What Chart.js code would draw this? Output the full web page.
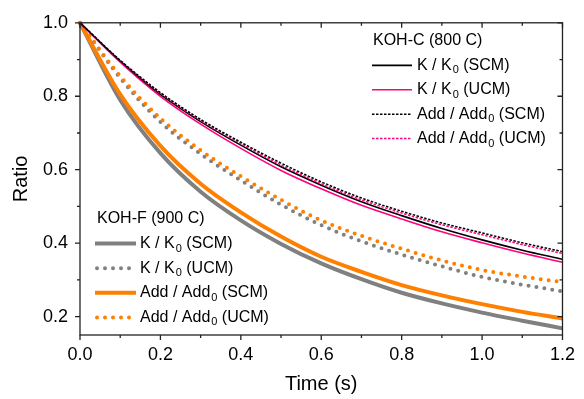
<!DOCTYPE html>
<html>
<head>
<meta charset="utf-8">
<script src="https://cdn.jsdelivr.net/npm/chart.js@4.4.1/dist/chart.umd.min.js"></script>
<style>
  html, body { margin: 0; padding: 0; background: #fff; }
</style>
</head>
<body>
<canvas id="ratioChart" width="584" height="399"></canvas>
<script>
// time axis (s)
var time = [0, 0.1, 0.2, 0.3, 0.4, 0.5, 0.6, 0.7, 0.8, 0.9, 1.0, 1.1, 1.2];

// KOH-C (800 C)
var c_K_SCM   = [1, 0.896, 0.805, 0.731, 0.667, 0.608, 0.558, 0.513, 0.475, 0.440, 0.409, 0.381, 0.356];
var c_K_UCM   = [1, 0.893, 0.800, 0.724, 0.658, 0.598, 0.548, 0.503, 0.466, 0.431, 0.401, 0.373, 0.348];
var c_Add_SCM = [1, 0.898, 0.810, 0.737, 0.675, 0.618, 0.567, 0.523, 0.487, 0.455, 0.428, 0.401, 0.377];
var c_Add_UCM = [1, 0.897, 0.808, 0.734, 0.671, 0.613, 0.562, 0.518, 0.482, 0.450, 0.423, 0.396, 0.372];

// KOH-F (900 C)
var f_K_SCM   = [1, 0.790, 0.645, 0.540, 0.462, 0.398, 0.345, 0.302, 0.265, 0.236, 0.211, 0.189, 0.168];
var f_K_UCM   = [1, 0.850, 0.730, 0.643, 0.571, 0.505, 0.449, 0.405, 0.369, 0.337, 0.308, 0.287, 0.269];
var f_Add_SCM = [1, 0.805, 0.665, 0.562, 0.484, 0.418, 0.363, 0.322, 0.286, 0.258, 0.234, 0.213, 0.195];
var f_Add_UCM = [1, 0.855, 0.740, 0.653, 0.582, 0.518, 0.462, 0.420, 0.385, 0.353, 0.327, 0.309, 0.294];

var xTicks = [0, 0.2, 0.4, 0.6, 0.8, 1.0, 1.2];
var yTicks = [0.2, 0.4, 0.6, 0.8, 1.0];

var FONT = 'Arial, "Liberation Sans", sans-serif';
var BLACK = '#000000', PINK = '#ff0080', GRAY = '#808080', ORANGE = '#ff7f00';

function pts(arr) {
  return arr.map(function(v, i) { return { x: time[i], y: v }; });
}

function ds(label, arr, color, width, dash) {
  return {
    label: label,
    data: pts(arr),
    borderColor: color,
    borderWidth: width,
    borderDash: dash || [],
    borderCapStyle: (dash && dash[0] === 0) ? 'round' : 'butt',
    pointRadius: 0,
    fill: false,
    cubicInterpolationMode: 'monotone',
    clip: 4
  };
}

// first dataset is drawn on top
var datasets = [
  ds('c_Add_SCM', c_Add_SCM, BLACK, 1.5, [2.5, 1.5]),
  ds('c_Add_UCM', c_Add_UCM, PINK, 1.5, [2.5, 1.5]),
  ds('c_K_SCM', c_K_SCM, BLACK, 1.6),
  ds('c_K_UCM', c_K_UCM, PINK, 1.6),
  ds('f_Add_UCM', f_Add_UCM, ORANGE, 4, [0, 8]),
  ds('f_K_UCM', f_K_UCM, GRAY, 4, [0, 8]),
  ds('f_Add_SCM', f_Add_SCM, ORANGE, 4),
  ds('f_K_SCM', f_K_SCM, GRAY, 4)
];

// legend groups: title, position, rows [dataset index, main text, subscript, rest]
var legends = [
  { title: 'KOH-C (800 C)', x: 373, y: 41, lineX: 372, lineW: 40, textX: 417, step: 24.4,
    rows: [[2, 'K / K', '0', ' (SCM)'], [3, 'K / K', '0', ' (UCM)'],
           [0, 'Add / Add', '0', ' (SCM)'], [1, 'Add / Add', '0', ' (UCM)']] },
  { title: 'KOH-F (900 C)', x: 97, y: 219, lineX: 95, lineW: 41, textX: 140, step: 24.6,
    rows: [[7, 'K / K', '0', ' (SCM)'], [5, 'K / K', '0', ' (UCM)'],
           [6, 'Add / Add', '0', ' (SCM)'], [4, 'Add / Add', '0', ' (UCM)']] }
];

var framePlugin = {
  id: 'frame',
  afterDraw: function(chart) {
    var ctx = chart.ctx, a = chart.chartArea;
    var xs = chart.scales.x, ys = chart.scales.y;
    ctx.save();
    ctx.strokeStyle = '#222';
    ctx.lineWidth = 1.3;
    ctx.strokeRect(a.left, a.top, a.right - a.left, a.bottom - a.top);
    ctx.beginPath();
    for (var i = 2; i <= 10; i++) {
      var py = ys.getPixelForValue(i / 10);
      var len = (i % 2 === 0) ? 5 : 3;
      ctx.moveTo(a.left, py); ctx.lineTo(a.left - len, py);
      ctx.moveTo(a.right, py); ctx.lineTo(a.right - len, py);
    }
    for (var j = 0; j <= 12; j++) {
      var px = xs.getPixelForValue(j / 10);
      var lenx = (j % 2 === 0) ? 5 : 3;
      ctx.moveTo(px, a.bottom); ctx.lineTo(px, a.bottom + lenx);
      ctx.moveTo(px, a.top); ctx.lineTo(px, a.top + lenx);
    }
    ctx.stroke();

    // legends
    ctx.fillStyle = '#000';
    ctx.textBaseline = 'middle';
    legends.forEach(function(lg) {
      ctx.font = '16px ' + FONT;
      ctx.fillText(lg.title, lg.x, lg.y);
      lg.rows.forEach(function(r, k) {
        var d = chart.data.datasets[r[0]];
        var yy = lg.y + lg.step * (k + 1);
        ctx.save();
        ctx.strokeStyle = d.borderColor;
        ctx.lineWidth = d.borderWidth;
        ctx.setLineDash(d.borderDash);
        ctx.lineCap = d.borderCapStyle;
        ctx.beginPath();
        var off = d.borderCapStyle === 'round' ? 2 : 0;
        ctx.moveTo(lg.lineX + off, yy);
        ctx.lineTo(lg.lineX + lg.lineW, yy);
        ctx.stroke();
        ctx.restore();
        var tx = lg.textX;
        ctx.font = '16px ' + FONT;
        ctx.fillText(r[1], tx, yy);
        tx += ctx.measureText(r[1]).width + 1;
        ctx.font = '11px ' + FONT;
        ctx.fillText(r[2], tx, yy + 5);
        tx += ctx.measureText(r[2]).width;
        ctx.font = '16px ' + FONT;
        ctx.fillText(r[3], tx, yy);
      });
    });
    ctx.restore();
  }
};

new Chart(document.getElementById('ratioChart').getContext('2d'), {
  type: 'line',
  data: { datasets: datasets },
  options: {
    responsive: false,
    animation: false,
    layout: { padding: { top: 18, right: 15, left: 0, bottom: 0 } },
    plugins: { legend: { display: false }, tooltip: { enabled: false } },
    scales: {
      x: {
        type: 'linear',
        min: 0, max: 1.2,
        afterBuildTicks: function(s) { s.ticks = xTicks.map(function(v) { return { value: v }; }); },
        afterFit: function(s) { s.height = 64; },
        grid: { display: false, drawTicks: false },
        border: { display: false },
        ticks: {
          padding: 9, color: '#000', maxRotation: 0,
          font: { family: FONT, size: 18 },
          callback: function(v) { return v.toFixed(1); }
        },
        title: {
          display: true, text: 'Time (s)', color: '#000',
          font: { family: FONT, size: 20 }, padding: { top: 0, bottom: 3 }
        }
      },
      y: {
        min: 0.15, max: 1.0,
        afterBuildTicks: function(s) { s.ticks = yTicks.map(function(v) { return { value: v }; }); },
        afterFit: function(s) { s.width = 80; },
        grid: { display: false, drawTicks: false },
        border: { display: false },
        ticks: {
          padding: 12, color: '#000',
          font: { family: FONT, size: 18 },
          callback: function(v) { return v.toFixed(1); }
        },
        title: {
          display: true, text: 'Ratio', color: '#000',
          font: { family: FONT, size: 20 }, padding: { top: 9, bottom: 0 }
        }
      }
    }
  },
  plugins: [framePlugin]
});
</script>
</body>
</html>
